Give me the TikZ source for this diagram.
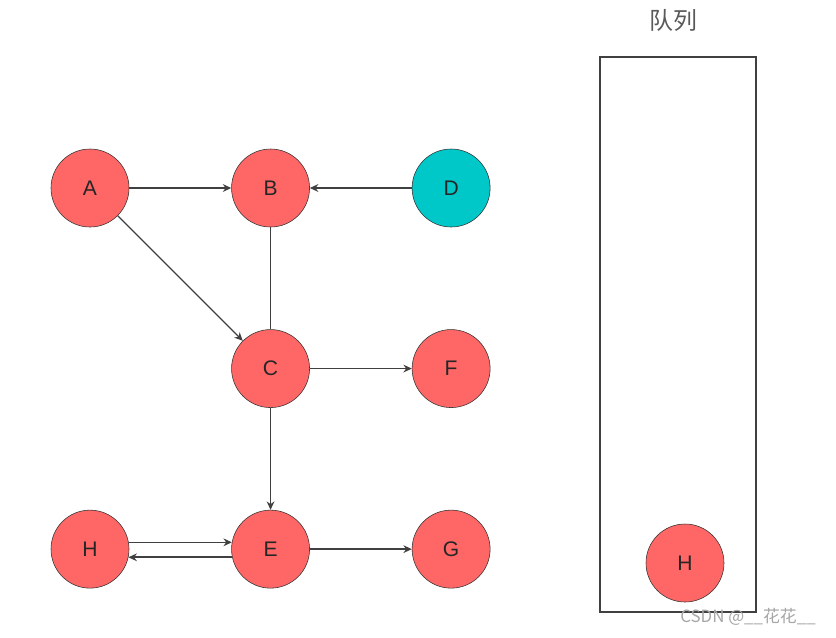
\documentclass[tikz,border=0pt]{standalone}
\usepackage{fontspec}
\setmainfont{Liberation Sans}
\newfontfamily\cjkfont{Noto Sans CJK SC}
\usepackage{xcolor}
\usetikzlibrary{positioning, arrows.meta}

\definecolor{nodered}{HTML}{FF6666}
\definecolor{nodecyan}{HTML}{00C8C8}

\begin{document}
\begin{tikzpicture}[>={Stealth[length=6pt,width=5.5pt]}, node distance=2.55cm,
    vertex/.style={circle, draw=black!80, fill=nodered, minimum size=1.95cm, inner sep=0pt,
        text=black!85, font=\fontsize{15}{18}\selectfont},
    link/.style={draw=black!75, line width=1pt}]

    \useasboundingbox (0,0) rectangle (20.9,-15.925);

    % =================================================================
    % ĐỒ THỊ BÊN TRÁI
    % =================================================================
    % Các đỉnh
    \node[vertex] (A) at (2.25,-4.7) {A};
    \node[vertex, right=of A] (B) {B};
    \node[vertex, fill=nodecyan, right=of B] (D) {D};
    \node[vertex, below=of B] (C) {C};
    \node[vertex, right=of C] (F) {F};
    \node[vertex, below=of C] (E) {E};
    \node[vertex, left=of E] (H) {H};
    \node[vertex, right=of E] (G) {G};

    % Các cạnh có hướng
    \draw[link, ->] (A) -- (B);
    \draw[link, ->] (D) -- (B);
    \draw[link, ->, line width=0.8pt] (A) -- (C);
    \draw[link] (B) -- (C);   % cạnh không có mũi tên
    \draw[link, ->] (C) -- (F);
    \draw[link, ->, line width=1.3pt] (C) -- (E);
    \draw[link, ->] (E) -- (G);

    % Hai mũi tên qua lại giữa H và E
    \draw[link, ->] (H.10) -- (E.170);
    \draw[link, ->, line width=1.3pt] (E.192) -- (H.348);

    % =================================================================
    % HÀNG ĐỢI BÊN PHẢI
    % =================================================================
    \node[font=\cjkfont\fontsize{17}{20}\selectfont, text=black!65] (title) at (16.825,-0.5) {队列};
    \draw[draw=black!75, line width=1pt] (15,-1.425) rectangle (18.9,-15.3);
    \node[vertex] (Hq) at (17.125,-14.075) {H};

    % Dấu mờ
    \node[font=\cjkfont\fontsize{12}{14}\selectfont, text=black!35] (mark) at (18.7,-15.43) {CSDN @\_\_花花\_\_};

\end{tikzpicture}
\end{document}
